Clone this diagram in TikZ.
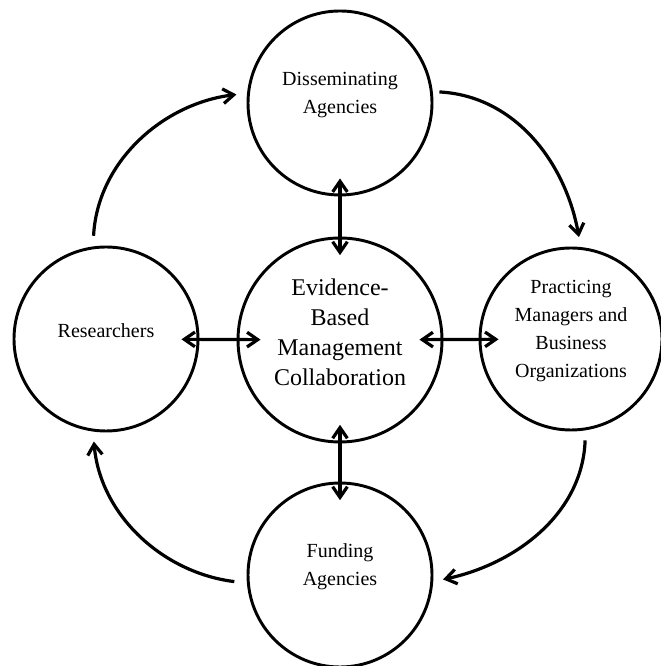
\documentclass[tikz,border=0pt]{standalone}
\usepackage{fontspec}
\setmainfont{Liberation Serif}
\usetikzlibrary{arrows.meta}

\begin{document}
\begin{tikzpicture}[
  x=0.75pt, y=0.75pt,
  party/.style={circle, draw, line width=2.2pt, inner sep=0pt, minimum size=138pt},
  hub/.style={circle, draw, line width=2.2pt, inner sep=0pt, minimum size=153pt},
  lab/.style={align=center, font=\fontsize{15pt}{21pt}\selectfont, inner sep=0pt},
  hublab/.style={align=center, font=\fontsize{18pt}{22.5pt}\selectfont, inner sep=0pt},
  tip/.style={Straight Barb[length=8pt, width=11pt]},
  cycle/.style={line width=2.4pt, -{Straight Barb[length=8pt, width=11pt]}},
  both/.style={line width=2.4pt, {Straight Barb[length=8pt, width=11pt]}-{Straight Barb[length=8pt, width=11pt]}}
]
\useasboundingbox (0,0) rectangle (660,666);

% the five circles
\node[party] (dis)  at (340,563) {};
\node[party] (res)  at (106,327) {};
\node[party, minimum size=136.5pt] (prac) at (571,327) {};
\node[party] (fund) at (340,91)  {};
\node[hub]   (ebm)  at (340,326) {};

% circle texts, set a little above each centre
\node[lab]    (dis-t)  at ([yshift=6pt]dis.center)  {Disseminating\\Agencies};
\node[lab]    (res-t)  at ([yshift=6pt]res.center)  {Researchers};
\node[lab]    (prac-t) at ([yshift=6pt]prac.center) {Practicing\\Managers and\\Business\\Organizations};
\node[lab]    (fund-t) at ([yshift=6pt]fund.center) {Funding\\Agencies};
\node[hublab] (ebm-t)  at ([yshift=6pt]ebm.center)  {Evidence-\\Based\\Management\\Collaboration};

% outer cycle of curved arrows
\draw[cycle, shorten <=8pt, shorten >=8pt]
  (res.98) to[out=87, in=187] (dis.174);
\draw[cycle, shorten <=5pt, shorten >=7.5pt]
  (dis.7) to[out=-3, in=100] (prac.84);
\draw[cycle, shorten <=7.5pt, shorten >=7.5pt]
  (prac.-81) to[out=-92, in=12] (fund.-4.5);
\draw[cycle, shorten <=9.5pt, shorten >=7.5pt]
  (fund.185) to[out=173, in=-85] (res.-98);

% two-way links with the central collaboration
\draw[both, shorten <=-13.5pt, shorten >=-14pt] (dis) -- (ebm);
\draw[both, shorten <=-14pt, shorten >=-14pt] (ebm) -- (fund);
\draw[both, shorten <=-13.5pt, shorten >=-18pt] (res) -- (ebm);
\draw[both, shorten <=-18pt, shorten >=-15pt] (ebm) -- (prac);
\end{tikzpicture}
\end{document}
